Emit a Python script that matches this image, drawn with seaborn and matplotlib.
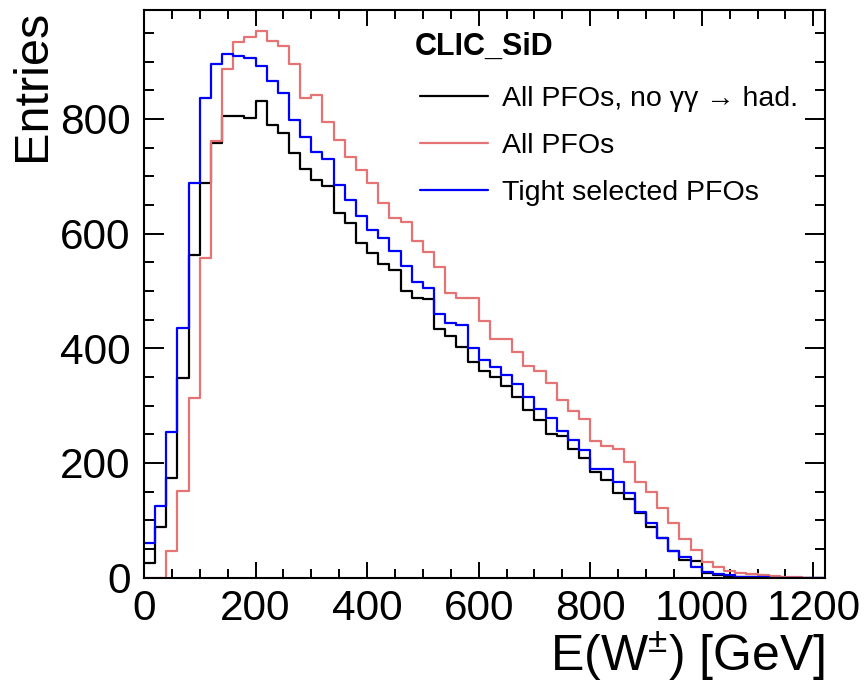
import numpy as np
import pandas as pd
import matplotlib
matplotlib.use("Agg")
import matplotlib.pyplot as plt
import seaborn as sns

# 20 GeV bins from 0 to 1220 GeV
bin_width = 20
e_max = 1220

# entries per bin
all_pfos_no_gg = [25, 89, 173, 349, 562, 688, 758, 806, 806, 802,
                  831, 790, 775, 741, 713, 694, 683, 636, 618, 584,
                  567, 547, 537, 500, 488, 486, 433, 422, 403, 376,
                  361, 350, 334, 315, 292, 275, 251, 247, 225, 208,
                  185, 171, 147, 138, 112, 88, 69, 46, 31, 29,
                  8, 5, 3, 2, 1, 0, 0, 0, 0, 0, 0]
all_pfos = [0, 0, 47, 152, 313, 558, 762, 888, 934, 943,
            954, 936, 928, 895, 837, 842, 795, 763, 733, 711,
            689, 654, 628, 621, 587, 568, 541, 496, 488, 488,
            447, 416, 416, 394, 369, 360, 339, 309, 291, 276,
            238, 230, 224, 202, 166, 150, 122, 95, 67, 49,
            28, 18, 11, 9, 6, 4, 3, 2, 1, 0, 0]
tight_pfos = [60, 125, 254, 435, 689, 836, 895, 914, 910, 907,
              892, 866, 845, 799, 769, 742, 730, 684, 659, 630,
              606, 593, 570, 543, 516, 505, 460, 445, 440, 401,
              380, 368, 354, 338, 315, 295, 279, 256, 240, 223,
              190, 189, 167, 147, 115, 95, 70, 47, 36, 18,
              10, 6, 4, 2, 1, 1, 0, 0, 0, 0, 0]

labels = ["All PFOs, no γγ → had.", "All PFOs", "Tight selected PFOs"]
colors = ["black", "#e57373", "#0000ff"]

sns.set_style("ticks")
plt.rcParams["font.family"] = ["Liberation Sans", "DejaVu Sans"]
plt.rcParams["mathtext.fontset"] = "custom"
plt.rcParams["mathtext.rm"] = "Liberation Sans"
plt.rcParams["mathtext.default"] = "regular"
plt.rcParams["text.color"] = "black"
plt.rcParams["axes.labelcolor"] = "black"
plt.rcParams["axes.edgecolor"] = "black"
plt.rcParams["xtick.color"] = "black"
plt.rcParams["ytick.color"] = "black"

centers = np.arange(bin_width / 2, e_max, bin_width)
df = pd.DataFrame({
    "E": np.tile(centers, 3),
    "entries": np.concatenate([all_pfos_no_gg, all_pfos, tight_pfos]),
    "sample": np.repeat(labels, len(centers)),
})

fig = plt.figure(figsize=(8.66, 6.91), dpi=100)
ax = fig.add_axes([0.1663, 0.164, 0.7864, 0.8215])

for lab, col in zip(labels, colors):
    sub = df[df["sample"] == lab]
    sns.histplot(data=sub, x="E", weights="entries", binwidth=bin_width,
                 binrange=(0, e_max), element="step", fill=False,
                 color=col, linewidth=1.6, label=lab, ax=ax)

ax.set_xlim(0, 1221)
ax.set_ylim(0, 990)
ax.set_xticks(np.arange(0, 1201, 200))
ax.set_xticks(np.arange(0, 1221, 50), minor=True)
ax.set_yticks(np.arange(0, 801, 200))
ax.set_yticks(np.arange(0, 990, 50), minor=True)
ax.tick_params(which="both", direction="in", top=True, right=True,
               width=1.4, labelsize=30.5)
ax.tick_params(axis="x", which="major", length=11.5, pad=8)
ax.tick_params(axis="x", which="minor", length=6.5)
ax.tick_params(axis="y", which="major", length=14.5, pad=9.5)
ax.tick_params(axis="y", which="minor", length=7.2)
for s in ax.spines.values():
    s.set_linewidth(1.5)

ax.set_xlabel("E(W$^{\\pm}$) [GeV]", fontsize=36, loc="right", labelpad=0)
ax.set_ylabel("Entries", fontsize=35, loc="top", labelpad=4)

ax.text(0.398, 0.935, "CLIC_SiD", transform=ax.transAxes, fontsize=22,
        fontweight="bold", va="center", ha="left")
ax.legend(loc="upper left", bbox_to_anchor=(0.405, 0.866), frameon=False,
          fontsize=20.5, handlelength=2.4, handletextpad=0.5,
          labelspacing=0.74, borderpad=0, borderaxespad=0)

fig.savefig("out.png", dpi=100)
